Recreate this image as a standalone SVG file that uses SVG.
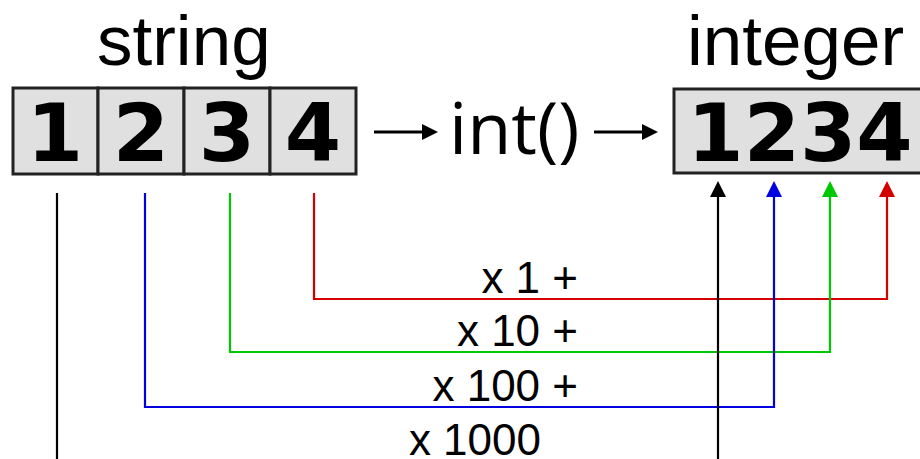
<svg xmlns="http://www.w3.org/2000/svg" width="920" height="459" viewBox="0 0 920 459">
<defs>
<style>
.title{font-family:"Liberation Sans",Arial,sans-serif;font-size:71px;fill:#000}
.digit{font-family:"DejaVu Sans",sans-serif;font-weight:bold;font-size:81px;fill:#000;text-anchor:middle}
.func{font-family:"Open Sans","Noto Sans",sans-serif;font-size:72px;fill:#000}
.lbl{font-family:"Liberation Sans",Arial,sans-serif;font-size:44px;fill:#000;text-anchor:end}
.cell{fill:#e0e0e0;stroke:#222;stroke-width:3}
.wire{fill:none;stroke-width:2.2}
</style>
</defs>
<g id="label-string"><text class="title" x="97" y="65">string</text></g>
<g id="label-integer"><text class="title" x="687" y="65">integer</text></g>
<g id="string-cells">
<rect class="cell" x="13" y="88" width="85" height="86"/>
<rect class="cell" x="98" y="88" width="86" height="86"/>
<rect class="cell" x="184" y="88" width="86" height="86"/>
<rect class="cell" x="270" y="88" width="86" height="86"/>
<text class="digit" x="55" y="161">1</text>
<text class="digit" x="141" y="161">2</text>
<text class="digit" x="227" y="161">3</text>
<text class="digit" x="313" y="161">4</text>
</g>
<g id="func"><text class="func" x="449" y="154">int()</text></g>
<g id="integer-box">
<rect class="cell" x="674" y="89" width="260" height="84"/>
<text class="digit" x="800" y="161">1234</text>
</g>
<g id="connectors">
<line x1="374" y1="132" x2="424" y2="132" stroke="#000" stroke-width="3"/>
<path d="M438,132 l-16,-8 v16 z" fill="#000"/>
<line x1="594" y1="132" x2="644" y2="132" stroke="#000" stroke-width="3"/>
<path d="M658,132 l-16,-8 v16 z" fill="#000"/>
<polyline class="wire" stroke="#d40000" points="314,193 314,299 887,299 887,190"/>
<polyline class="wire" stroke="#00c800" points="230,193 230,352 830,352 830,190"/>
<polyline class="wire" stroke="#0000e0" points="145,193 145,407 774,407 774,190"/>
<line class="wire" stroke="#000" x1="57" y1="193" x2="57" y2="459"/>
<line class="wire" stroke="#000" x1="718" y1="459" x2="718" y2="190"/>
<path d="M718,181 l-8,16 h16 z" fill="#000"/>
<path d="M774,181 l-8,16 h16 z" fill="#0000e0"/>
<path d="M830,181 l-8,16 h16 z" fill="#00c800"/>
<path d="M887,181 l-8,16 h16 z" fill="#d40000"/>
</g>
<g id="labels">
<text class="lbl" x="578" y="293">x 1 +</text>
<text class="lbl" x="578" y="346">x 10 +</text>
<text class="lbl" x="578" y="401">x 100 +</text>
<text class="lbl" x="541" y="455">x 1000</text>
</g>
</svg>
